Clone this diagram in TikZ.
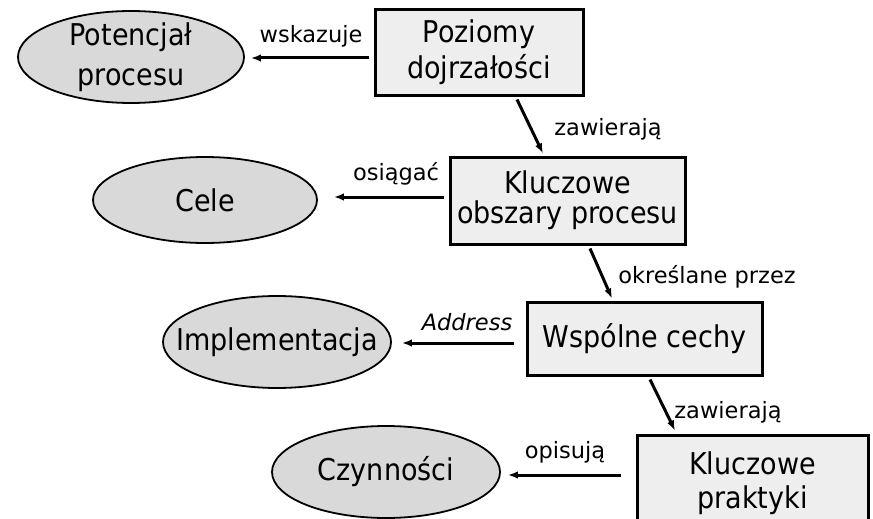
\documentclass[tikz,border=0pt]{standalone}
\usepackage{fontspec}
\setmainfont{DejaVu Sans Condensed}
\newfontfamily\labelfont{DejaVu Sans}
\usetikzlibrary{shapes.geometric,arrows.meta,calc}
\definecolor{boxfill}{HTML}{EEEEEE}
\definecolor{ovalfill}{HTML}{D9D9D9}
\begin{document}
\begin{tikzpicture}[x=1pt,y=-1pt,
  box/.style={draw=black,line width=3pt,fill=boxfill,inner sep=0pt,align=center},
  oval/.style={ellipse,draw=black,line width=1.8pt,fill=ovalfill,inner sep=0pt},
  ovaltext/.style={inner sep=0pt,align=center},
  lbl/.style={font=\labelfont\fontsize{22.5}{27}\selectfont,anchor=base,inner sep=0pt},
  link/.style={line width=3pt,-{Latex[length=10pt,width=7.5pt]}}]
\useasboundingbox (0,0) rectangle (873,519);

% concept boxes
\node[box,minimum width=208pt,minimum height=85pt,font=\fontsize{30}{36}\selectfont] (b1) at (479,52.5) {Poziomy\\dojrzałości};
\node[box,minimum width=235pt,minimum height=87pt,font=\fontsize{30}{30}\selectfont] (b2) at (567.5,200.5) {Kluczowe\\obszary procesu};
\node[box,minimum width=235pt,minimum height=73pt,font=\fontsize{30}{36}\selectfont] (b3) at (644.5,338.5) {Wspólne cechy};
\node[box,minimum width=231pt,minimum height=90pt] (b4) at (752.5,480) {};
\node[ovaltext,font=\fontsize{30}{34}\selectfont] (b4t) at (752.5,483) {Kluczowe\\praktyki};

% result ellipses and their texts
\node[oval,minimum width=226pt,minimum height=92pt] (e1) at (131,57) {};
\node[ovaltext,font=\fontsize{30}{40}\selectfont] (e1t) at (e1.center) {Potencjał\\procesu};
\node[oval,minimum width=224pt,minimum height=86pt] (e2) at (205,200) {};
\node[ovaltext,font=\fontsize{30}{36}\selectfont] (e2t) at (e2.center) {Cele};
\node[oval,minimum width=228pt,minimum height=92pt] (e3) at (277,342) {};
\node[ovaltext,font=\fontsize{30}{36}\selectfont] (e3t) at (e3.center) {Implementacja};
\node[oval,minimum width=228pt,minimum height=92pt] (e4) at (386,472) {};
\node[ovaltext,font=\fontsize{30}{36}\selectfont] (e4t) at (e4.center) {Czynności};

% horizontal links
\draw[link] ($(b1.west)+(-5,5.5)$) -- ($(e1.east)+(6,1)$);
\draw[link] ($(b2.west)+(-5,-3.5)$) -- ($(e2.east)+(16,-3)$);
\draw[link] ($(b3.west)+(-12,4.5)$) -- ($(e3.east)+(10,1)$);
\draw[link] ($(b4.west)+(-15,-5)$) -- ($(e4.east)+(7,3)$);

% downward links
\draw[link] ($(b1.south)+(38,3)$) -- ($(b2.north)+(-24.5,-2)$);
\draw[link] ($(b2.south)+(22.5,3)$) -- ($(b3.north)+(-32.5,-2)$);
\draw[link] ($(b3.south)+(5.5,3)$) -- ($(b4.north)+(-77.5,-3)$);

% link labels
\node[lbl] (l1) at (311,43) {wskazuje};
\node[lbl] (l2) at (608,135) {zawierają};
\node[lbl] (l3) at (396,180) {osiągać};
\node[lbl] (l4) at (707,283) {określane przez};
\node[lbl] (l5) at (467,330) {\itshape Address};
\node[lbl] (l6) at (728,418) {zawierają};
\node[lbl] (l7) at (565,458) {opisują};
\end{tikzpicture}
\end{document}
